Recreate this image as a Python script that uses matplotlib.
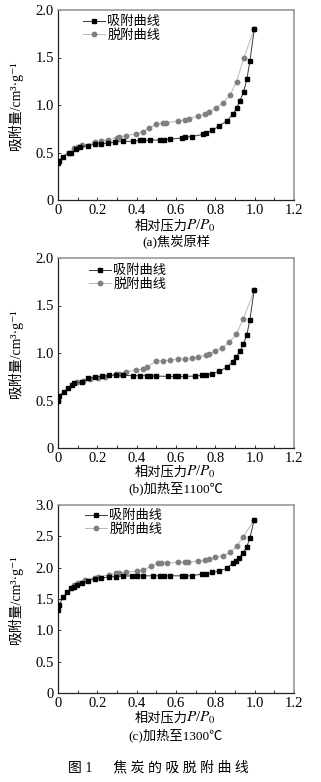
import matplotlib
matplotlib.use("Agg")
import matplotlib.pyplot as plt
from matplotlib.ticker import FixedLocator, MultipleLocator, FuncFormatter

# ---------------- data ----------------
# (a) raw coke
a_ads_x = [0.0, 0.005, 0.025, 0.054, 0.065, 0.09, 0.11, 0.15, 0.187, 0.22, 0.255, 0.29,
           0.33, 0.38, 0.416, 0.43, 0.467, 0.518, 0.538, 0.572, 0.628, 0.645, 0.68,
           0.735, 0.75, 0.784, 0.818, 0.857, 0.891, 0.908, 0.925, 0.944, 0.96, 0.976, 0.998]
a_ads_y = [0.386, 0.41, 0.456, 0.50, 0.495, 0.537, 0.554, 0.568, 0.59, 0.593, 0.596, 0.61,
           0.617, 0.617, 0.628, 0.628, 0.63, 0.632, 0.635, 0.64, 0.653, 0.663, 0.667,
           0.69, 0.71, 0.733, 0.779, 0.828, 0.909, 0.965, 1.046, 1.14, 1.27, 1.463, 1.80]
a_des_x = [0.998, 0.944, 0.908, 0.874, 0.837, 0.801, 0.767, 0.747, 0.713, 0.665, 0.648,
           0.608, 0.547, 0.535, 0.50, 0.463, 0.433, 0.395, 0.347, 0.309, 0.298, 0.255,
           0.22, 0.187, 0.124, 0.10, 0.08]
a_des_y = [1.80, 1.49, 1.246, 1.10, 1.018, 0.968, 0.93, 0.905, 0.884, 0.855, 0.845,
           0.83, 0.814, 0.807, 0.797, 0.758, 0.72, 0.698, 0.677, 0.663, 0.653, 0.635,
           0.618, 0.607, 0.575, 0.558, 0.547]

# (b) heated to 1100 C
b_ads_x = [0.0, 0.003, 0.03, 0.05, 0.07, 0.08, 0.12, 0.153, 0.187, 0.224, 0.26, 0.293,
           0.33, 0.38, 0.416, 0.45, 0.467, 0.50, 0.56, 0.594, 0.61, 0.645, 0.696, 0.73,
           0.75, 0.784, 0.818, 0.857, 0.888, 0.905, 0.925, 0.942, 0.96, 0.976, 0.997]
b_ads_y = [0.496, 0.55, 0.59, 0.627, 0.665, 0.68, 0.697, 0.732, 0.75, 0.754, 0.764, 0.768,
           0.764, 0.761, 0.761, 0.761, 0.761, 0.757, 0.754, 0.754, 0.754, 0.754, 0.757, 0.764,
           0.768, 0.782, 0.806, 0.849, 0.908, 0.958, 1.018, 1.09, 1.19, 1.352, 1.658]
b_des_x = [0.997, 0.942, 0.906, 0.87, 0.835, 0.80, 0.767, 0.75, 0.713, 0.68, 0.645, 0.61,
           0.572, 0.536, 0.50, 0.45, 0.433, 0.395, 0.345, 0.309, 0.293, 0.24, 0.203,
           0.161, 0.127, 0.097]
b_des_y = [1.658, 1.36, 1.197, 1.113, 1.056, 1.025, 0.986, 0.975, 0.961, 0.944, 0.937, 0.933,
           0.926, 0.919, 0.915, 0.849, 0.83, 0.817, 0.803, 0.782, 0.775, 0.746, 0.736,
           0.729, 0.708, 0.697]

# (c) heated to 1300 C
c_ads_x = [0.0, 0.005, 0.025, 0.048, 0.068, 0.08, 0.097, 0.12, 0.153, 0.187, 0.22, 0.258,
           0.293, 0.328, 0.378, 0.40, 0.433, 0.484, 0.518, 0.538, 0.572, 0.628, 0.645, 0.68,
           0.73, 0.752, 0.784, 0.818, 0.857, 0.888, 0.905, 0.922, 0.942, 0.96, 0.976, 0.997]
c_ads_y = [1.332, 1.40, 1.524, 1.614, 1.668, 1.694, 1.721, 1.753, 1.79, 1.822, 1.838, 1.849,
           1.859, 1.865, 1.87, 1.87, 1.87, 1.87, 1.87, 1.87, 1.87, 1.87, 1.87, 1.87,
           1.897, 1.902, 1.923, 1.945, 1.987, 2.067, 2.104, 2.158, 2.238, 2.334, 2.477, 2.76]
c_des_x = [0.997, 0.942, 0.908, 0.874, 0.837, 0.80, 0.767, 0.747, 0.713, 0.662, 0.645,
           0.608, 0.552, 0.523, 0.51, 0.475, 0.433, 0.40, 0.345, 0.31, 0.297, 0.258,
           0.203, 0.187, 0.136, 0.102, 0.08]
c_des_y = [2.76, 2.493, 2.339, 2.243, 2.19, 2.163, 2.131, 2.115, 2.104, 2.088, 2.083,
           2.083, 2.078, 2.078, 2.078, 2.024, 1.966, 1.945, 1.929, 1.918, 1.907, 1.886,
           1.854, 1.838, 1.811, 1.763, 1.72]

series_labels = ["吸附曲线", "脱附曲线"]
captions = ["(a)焦炭原样", "(b)加热至1100℃", "(c)加热至1300℃"]
y_maxes = [2.0, 2.0, 3.0]
x_ticks = [0, 0.2, 0.4, 0.6, 0.8, 1.0, 1.2]
ylabel = "吸附量/cm³·g⁻¹"
xlabel_cjk = "相对压力"
xlabel_math = r"$P$/$P_{0}$"
fig_caption = "图 1　  焦 炭 的 吸 脱 附 曲 线"

# ---------------- style ----------------
FAM = ["Liberation Serif", "Noto Sans CJK SC", "DejaVu Sans"]
plt.rcParams["font.family"] = FAM
plt.rcParams["mathtext.fontset"] = "stix"
plt.rcParams["axes.unicode_minus"] = False

W, H = 321, 782
fig = plt.figure(figsize=(W / 100, H / 100), dpi=100)

# pixel boxes: (top, bottom)
boxes = [(10, 200), (258, 448), (505, 693)]
left_px, right_px = 58, 294
legend_tops = [16, 265, 510]
legend_lefts = [83, 89, 85]
xlabel_off = [26, 24, 25]
cap_off = [41, 40, 42]
xlabel_split_px = 188

data = [
    (a_ads_x, a_ads_y, a_des_x, a_des_y),
    (b_ads_x, b_ads_y, b_des_x, b_des_y),
    (c_ads_x, c_ads_y, c_des_x, c_des_y),
]


def fmt(v, pos):
    if abs(v) < 1e-9:
        return "0"
    return f"{v:.1f}"


for i, (top, bot) in enumerate(boxes):
    ax = fig.add_axes([left_px / W, 1 - bot / H, (right_px - left_px) / W, (bot - top) / H])
    ax_x, ax_y, de_x, de_y = data[i]
    ax.plot(ax_x, ax_y, color="#3a3a3a", lw=0.7, marker="s", ms=3.0,
            mfc="black", mec="black", label=series_labels[0], zorder=3)
    ax.plot(de_x, de_y, color="#b8b8b8", lw=0.7, marker="o", ms=3.2,
            mfc="#7f7f7f", mec="#7f7f7f", label=series_labels[1], zorder=2)
    ax.set_xlim(0, 1.2)
    ax.set_ylim(0, y_maxes[i])
    ax.xaxis.set_major_locator(FixedLocator(x_ticks))
    ax.xaxis.set_minor_locator(MultipleLocator(0.1))
    ax.yaxis.set_major_locator(MultipleLocator(0.5))
    ax.xaxis.set_major_formatter(FuncFormatter(fmt))
    ax.yaxis.set_major_formatter(FuncFormatter(fmt))
    ax.tick_params(axis="both", which="both", direction="in", top=False, right=False,
                   labelsize=10.5, pad=3, length=2.5, width=0.7, color="#333333")
    for side in ("left", "bottom"):
        ax.spines[side].set_color("#222222")
        ax.spines[side].set_linewidth(0.9)
    for side in ("top", "right"):
        ax.spines[side].set_color("#9a9a9a")
        ax.spines[side].set_linewidth(1.2)
    ax.set_ylabel(ylabel, fontsize=10, labelpad=2)
    ax.yaxis.set_label_coords(-0.148, 0.5)

    h_ax = bot - top
    yl = 1 - (bot + xlabel_off[i]) / H
    fig.text(xlabel_split_px / W, yl, xlabel_cjk, ha="right", va="center", fontsize=9.5)
    fig.text((xlabel_split_px - 2) / W, yl, xlabel_math, ha="left", va="center", fontsize=11)
    ax.text(0.5, -cap_off[i] / h_ax, captions[i], transform=ax.transAxes,
            ha="center", va="center", fontsize=9.5)

    lx = (legend_lefts[i] - left_px) / (right_px - left_px)
    ly = (bot - legend_tops[i]) / h_ax
    ax.legend(loc="upper left", bbox_to_anchor=(lx, ly), frameon=False,
              fontsize=9.5, handlelength=1.7, handletextpad=0.15,
              labelspacing=0.05, borderpad=0, borderaxespad=0)

fig.text(158 / W, 1 - 768 / H, fig_caption, ha="center", va="center", fontsize=10)

fig.savefig("out.png", dpi=100)
